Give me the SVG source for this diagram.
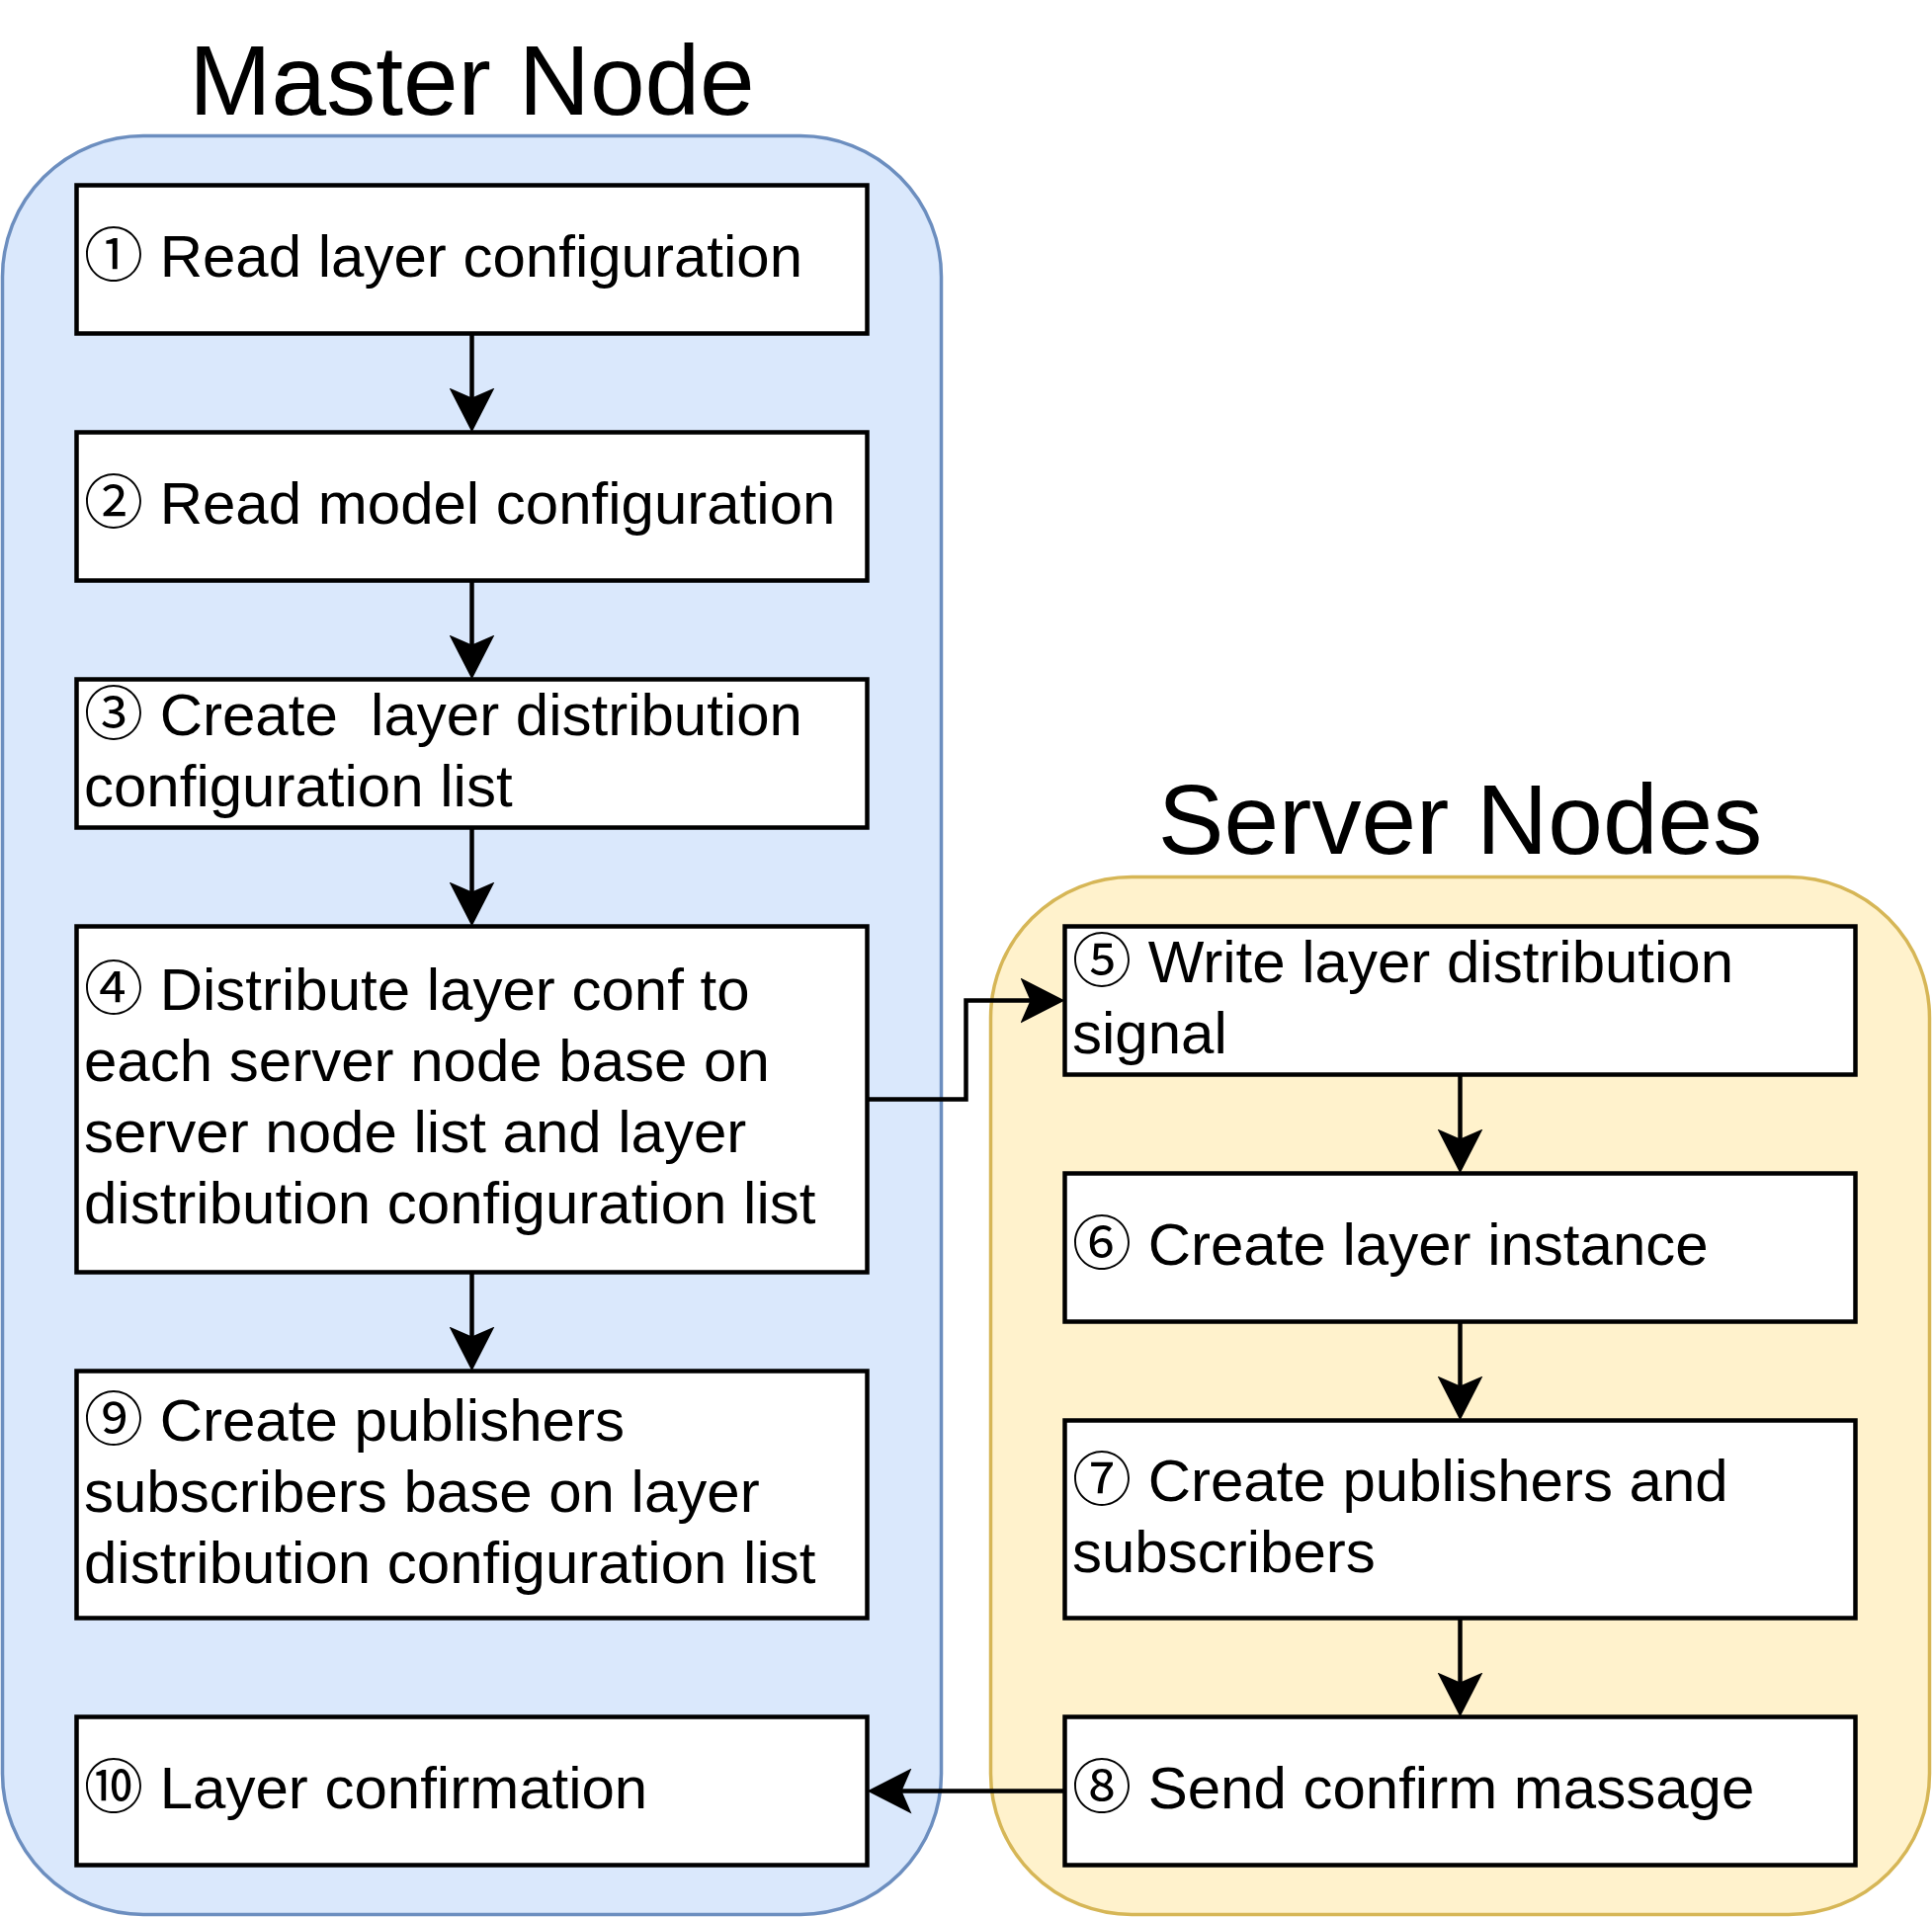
<svg xmlns="http://www.w3.org/2000/svg" width="1955" height="1940" viewBox="0 0 1955 1940">
<style>
  .title { font-family: "Liberation Sans", Arial, "Noto Sans CJK SC", sans-serif; font-size: 100px; fill: #000; text-anchor: middle; }
  .lbl { font-family: "Liberation Sans", Arial, "Noto Sans CJK SC", sans-serif; font-size: 60px; fill: #000; white-space: pre; }
  .box { fill: #ffffff; stroke: #000000; stroke-width: 4.5; }
  .master { fill: #dae8fc; stroke: #6c8ebf; stroke-width: 3.5; }
  .server { fill: #fff2cc; stroke: #d6b656; stroke-width: 3.5; }
  .conn { fill: none; stroke: #000000; stroke-width: 4.5; }
</style>
<defs>
  <marker id="arrow" markerUnits="userSpaceOnUse" markerWidth="46" markerHeight="46" refX="35" refY="23" orient="auto">
    <path d="M0,0 L45,23 L0,46 L10,23 Z" fill="#000000"/>
  </marker>
</defs>
<rect width="1955" height="1940" fill="#ffffff"/>

<g id="master-container">
  <rect class="master" x="2.5" y="137.5" width="950" height="1800" rx="142.5" ry="142.5"/>
  <text class="title" x="477.5" y="116">Master Node</text>
</g>
<g id="server-container">
  <rect class="server" x="1002.5" y="887.5" width="950" height="1050" rx="142.5" ry="142.5"/>
  <text class="title" x="1477.5" y="864">Server Nodes</text>
</g>

<g id="node1">
  <rect class="box" x="77.5" y="187.5" width="800" height="150"/>
  <text class="lbl" x="85" y="280">① Read layer configuration</text>
</g>
<g id="node2">
  <rect class="box" x="77.5" y="437.5" width="800" height="150"/>
  <text class="lbl" x="85" y="530">② Read model configuration</text>
</g>
<g id="node3">
  <rect class="box" x="77.5" y="687.5" width="800" height="150"/>
  <text class="lbl" x="85" y="744">③ Create  layer distribution</text>
  <text class="lbl" x="85" y="816">configuration list</text>
</g>
<g id="node4">
  <rect class="box" x="77.5" y="937.5" width="800" height="350"/>
  <text class="lbl" x="85" y="1022">④ Distribute layer conf to</text>
  <text class="lbl" x="85" y="1094">each server node base on</text>
  <text class="lbl" x="85" y="1166">server node list and layer</text>
  <text class="lbl" x="85" y="1238">distribution configuration list</text>
</g>
<g id="node9">
  <rect class="box" x="77.5" y="1387.5" width="800" height="250"/>
  <text class="lbl" x="85" y="1458">⑨ Create publishers</text>
  <text class="lbl" x="85" y="1530">subscribers base on layer</text>
  <text class="lbl" x="85" y="1602">distribution configuration list</text>
</g>
<g id="node10">
  <rect class="box" x="77.5" y="1737.5" width="800" height="150"/>
  <text class="lbl" x="85" y="1830">⑩ Layer confirmation</text>
</g>

<g id="node5">
  <rect class="box" x="1077.5" y="937.5" width="800" height="150"/>
  <text class="lbl" x="1085" y="994">⑤ Write layer distribution</text>
  <text class="lbl" x="1085" y="1066">signal</text>
</g>
<g id="node6">
  <rect class="box" x="1077.5" y="1187.5" width="800" height="150"/>
  <text class="lbl" x="1085" y="1280">⑥ Create layer instance</text>
</g>
<g id="node7">
  <rect class="box" x="1077.5" y="1437.5" width="800" height="200"/>
  <text class="lbl" x="1085" y="1519">⑦ Create publishers and</text>
  <text class="lbl" x="1085" y="1591">subscribers</text>
</g>
<g id="node8">
  <rect class="box" x="1077.5" y="1737.5" width="800" height="150"/>
  <text class="lbl" x="1085" y="1830">⑧ Send confirm massage</text>
</g>

<g id="connectors">
  <path class="conn" d="M477.5,337.5 V427.5" marker-end="url(#arrow)"/>
  <path class="conn" d="M477.5,587.5 V677.5" marker-end="url(#arrow)"/>
  <path class="conn" d="M477.5,837.5 V927.5" marker-end="url(#arrow)"/>
  <path class="conn" d="M477.5,1287.5 V1377.5" marker-end="url(#arrow)"/>
  <path class="conn" d="M877.5,1112.5 H977.5 V1012.5 H1067.5" marker-end="url(#arrow)"/>
  <path class="conn" d="M1477.5,1087.5 V1177.5" marker-end="url(#arrow)"/>
  <path class="conn" d="M1477.5,1337.5 V1427.5" marker-end="url(#arrow)"/>
  <path class="conn" d="M1477.5,1637.5 V1727.5" marker-end="url(#arrow)"/>
  <path class="conn" d="M1077.5,1812.5 H887.5" marker-end="url(#arrow)"/>
</g>
</svg>
